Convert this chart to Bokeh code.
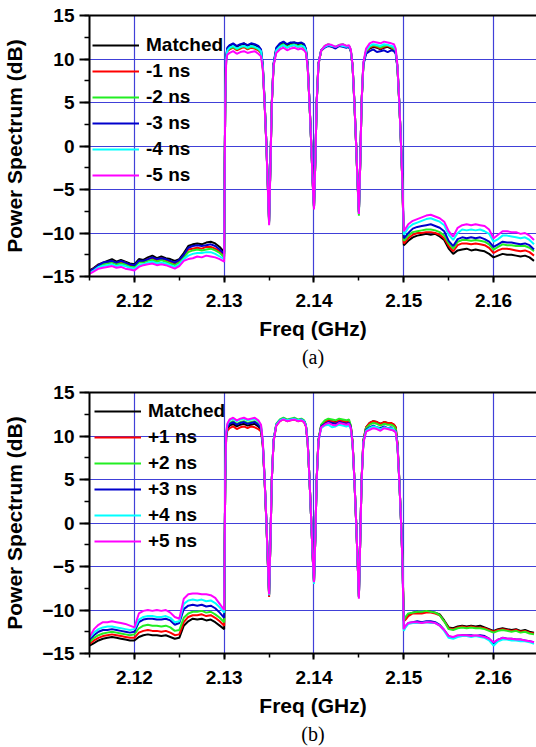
from bokeh.plotting import figure
from bokeh.models import (Range1d, SingleIntervalTicker, LinearAxis, FixedTicker,
                          Legend, LegendItem, Title)
from bokeh.layouts import column
from bokeh.embed import file_html
from bokeh.resources import INLINE

# ---------------- data ----------------
FREQ_LOW = [2.1150, 2.1155, 2.1160, 2.1165, 2.1170, 2.1175, 2.1180, 2.1185, 2.1190, 2.1195,
            2.1200, 2.1205, 2.1210, 2.1215, 2.1220, 2.1225, 2.1230, 2.1235, 2.1240, 2.1245,
            2.1250, 2.1255, 2.1260, 2.1265, 2.1270, 2.1275, 2.1280, 2.1285, 2.1290, 2.1295,
            2.1300]
FREQ_BAND = [2.13005, 2.13012, 2.13022, 2.13035,
             2.1306, 2.1310, 2.1314, 2.1318, 2.1322, 2.1326, 2.1330, 2.1334, 2.1338,
             2.1341, 2.1343, 2.1345, 2.1347, 2.13485,
             2.1350,
             2.13515, 2.1353, 2.1355, 2.1358,
             2.1362, 2.1366, 2.1370, 2.1374, 2.1378, 2.1382, 2.1386, 2.1389,
             2.1391, 2.1393, 2.1395, 2.1397, 2.13985,
             2.1400,
             2.14015, 2.1403, 2.1405, 2.1408,
             2.1412, 2.1416, 2.1420, 2.1424, 2.1428, 2.1432, 2.1436, 2.1439,
             2.1441, 2.1443, 2.1445, 2.1447, 2.14485,
             2.1450,
             2.14515, 2.1453, 2.1455, 2.1458,
             2.1462, 2.1466, 2.1470, 2.1474, 2.1478, 2.1482, 2.1486, 2.1489,
             2.1491, 2.1493, 2.1495, 2.1497, 2.14985]
FREQ_HIGH = [2.1500, 2.1502, 2.1505, 2.1510, 2.1515, 2.1520, 2.1525, 2.1530, 2.1535, 2.1540,
             2.1545, 2.1550, 2.1555, 2.1560, 2.1565, 2.1570, 2.1575, 2.1580, 2.1585, 2.1590,
             2.1595, 2.1600, 2.1605, 2.1610, 2.1615, 2.1620, 2.1625, 2.1630, 2.1635, 2.1640,
             2.1645]

LABELS_A = ["Matched", "-1 ns", "-2 ns", "-3 ns", "-4 ns", "-5 ns"]
LABELS_B = ["Matched", "+1 ns", "+2 ns", "+3 ns", "+4 ns", "+5 ns"]

# ---- panel (a) ----
A_MATCHED_LOW = [-14.3, -14.0, -13.6, -13.4, -13.2, -13.0, -13.3, -13.1, -13.3, -13.5,
                 -13.6, -13.0, -13.1, -12.8, -12.6, -12.9, -12.7, -12.9, -13.0, -13.2,
                 -13.0, -12.3, -11.5, -11.3, -11.2, -11.3, -11.1, -11.0, -11.2, -11.6, -12.2]
A_RED_LOW = [-14.4, -14.1, -13.7, -13.5, -13.4, -13.2, -13.5, -13.3, -13.4, -13.7,
             -13.8, -13.3, -13.3, -13.0, -12.9, -13.1, -12.9, -13.1, -13.3, -13.5,
             -13.2, -12.6, -11.9, -11.8, -11.7, -11.8, -11.6, -11.6, -11.8, -12.1, -12.6]
A_GREEN_LOW = [-14.5, -14.2, -13.8, -13.6, -13.5, -13.4, -13.6, -13.5, -13.6, -13.9,
               -13.9, -13.4, -13.4, -13.2, -13.1, -13.3, -13.1, -13.3, -13.5, -13.7,
               -13.4, -12.8, -12.2, -12.0, -11.9, -12.0, -11.9, -11.8, -12.0, -12.3, -12.8]
A_BLUE_LOW = [-14.4, -14.1, -13.7, -13.4, -13.3, -13.2, -13.4, -13.2, -13.4, -13.6,
              -13.7, -13.2, -13.2, -13.0, -12.8, -13.0, -12.9, -13.0, -13.2, -13.4,
              -13.1, -12.5, -11.7, -11.5, -11.4, -11.5, -11.4, -11.3, -11.5, -11.9, -12.4]
A_CYAN_LOW = [-14.6, -14.3, -13.9, -13.8, -13.7, -13.6, -13.8, -13.7, -13.8, -14.0,
              -14.1, -13.7, -13.6, -13.4, -13.3, -13.5, -13.4, -13.5, -13.7, -13.9,
              -13.6, -13.0, -12.6, -12.4, -12.3, -12.3, -12.2, -12.2, -12.4, -12.7, -13.0]
A_MAGENTA_LOW = [-14.7, -14.4, -14.1, -14.0, -13.9, -13.8, -14.0, -13.9, -14.1, -14.2,
                 -14.3, -13.9, -13.7, -13.6, -13.5, -13.7, -13.6, -13.7, -13.9, -14.1,
                 -13.8, -13.2, -13.0, -12.9, -12.7, -12.8, -12.6, -12.7, -12.8, -13.0, -13.3]

A_MATCHED_BAND = [-3.2, 5.4, 10.2, 11.2, 11.5, 11.7, 11.4, 11.6, 11.8, 11.5, 11.7, 11.6, 11.4,
                  11.0, 9.2, 5.1, 0.2, -4.3, -8.6,
                  -2.1, 4.9, 9.4, 11.2, 11.7, 11.9, 11.6, 11.8, 11.9, 11.7, 11.8, 11.6,
                  11.1, 9.3, 5.0, 0.1, -4.0, -7.0,
                  -1.6, 5.1, 9.5, 11.0, 11.4, 11.6, 11.5, 11.3, 11.6, 11.5, 11.4, 11.5,
                  11.0, 9.2, 5.0, 0.0, -4.1, -7.6,
                  -1.9, 5.1, 9.5, 10.9, 11.2, 11.4, 11.3, 11.1, 11.3, 11.4, 11.2, 11.1,
                  10.8, 9.0, 5.0, 0.0, -4.4]
A_RED_BAND = [-3.2, 5.3, 10.0, 10.9, 11.1, 11.3, 11.0, 11.2, 11.4, 11.1, 11.3, 11.2, 11.0,
              10.7, 9.0, 5.0, 0.1, -4.4, -8.8,
              -2.2, 4.9, 9.3, 11.0, 11.4, 11.6, 11.3, 11.5, 11.6, 11.4, 11.5, 11.3,
              10.9, 9.1, 4.9, 0.0, -4.1, -7.1,
              -1.7, 5.0, 9.4, 10.9, 11.4, 11.6, 11.4, 11.3, 11.5, 11.6, 11.4, 11.4,
              10.9, 9.1, 4.9, 0.0, -4.2, -7.7,
              -2.0, 5.0, 9.4, 10.8, 11.3, 11.5, 11.4, 11.2, 11.4, 11.5, 11.3, 11.1,
              10.8, 9.0, 4.9, -0.1, -4.5]
A_GREEN_BAND = [-3.1, 5.3, 10.0, 11.0, 11.2, 11.4, 11.1, 11.3, 11.5, 11.2, 11.4, 11.3, 11.1,
                10.8, 9.0, 5.0, 0.1, -4.4, -8.9,
                -2.2, 4.9, 9.3, 11.0, 11.5, 11.7, 11.4, 11.6, 11.7, 11.5, 11.6, 11.4,
                11.0, 9.1, 4.9, 0.0, -4.1, -7.1,
                -1.7, 5.0, 9.4, 11.0, 11.5, 11.7, 11.5, 11.4, 11.6, 11.7, 11.5, 11.5,
                11.0, 9.1, 4.9, 0.0, -4.3, -8.0,
                -2.0, 5.0, 9.4, 10.9, 11.4, 11.6, 11.5, 11.3, 11.5, 11.6, 11.4, 11.2,
                10.9, 9.0, 4.9, -0.1, -4.5]
A_BLUE_BAND = [-3.2, 5.4, 10.3, 11.3, 11.6, 11.8, 11.5, 11.7, 11.8, 11.6, 11.8, 11.7, 11.5,
               11.1, 9.3, 5.1, 0.2, -4.3, -8.7,
               -2.1, 5.0, 9.5, 11.3, 11.8, 12.0, 11.7, 11.9, 11.9, 11.8, 11.9, 11.7,
               11.2, 9.3, 5.0, 0.1, -4.0, -7.0,
               -1.6, 5.1, 9.5, 11.0, 11.3, 11.5, 11.4, 11.2, 11.5, 11.4, 11.3, 11.4,
               10.9, 9.1, 5.0, 0.0, -4.1, -7.6,
               -1.9, 5.0, 9.3, 10.6, 10.9, 11.1, 10.8, 10.9, 11.0, 10.8, 11.0, 10.9,
               10.6, 8.9, 4.9, 0.0, -4.4]
A_CYAN_BAND = [-3.1, 5.3, 10.1, 11.0, 11.3, 11.5, 11.2, 11.4, 11.5, 11.3, 11.5, 11.4, 11.2,
               10.9, 9.1, 5.0, 0.1, -4.4, -8.9,
               -2.2, 4.9, 9.3, 11.0, 11.4, 11.6, 11.3, 11.5, 11.6, 11.4, 11.5, 11.4,
               11.0, 9.1, 4.9, 0.0, -4.1, -7.2,
               -1.7, 5.0, 9.4, 11.0, 11.4, 11.6, 11.5, 11.4, 11.6, 11.5, 11.4, 11.5,
               11.0, 9.1, 4.9, 0.0, -4.2, -7.8,
               -2.0, 5.0, 9.5, 11.0, 11.5, 11.7, 11.6, 11.5, 11.7, 11.6, 11.5, 11.4,
               11.0, 9.1, 5.0, 0.0, -4.5]
A_MAGENTA_BAND = [-3.3, 5.0, 9.7, 10.5, 10.7, 10.9, 10.6, 10.8, 10.9, 10.7, 10.8, 10.9, 10.6,
                  10.3, 8.8, 4.8, 0.0, -4.6, -9.1,
                  -2.3, 4.8, 9.2, 10.7, 11.1, 11.3, 11.0, 11.2, 11.3, 11.1, 11.2, 11.0,
                  10.7, 9.0, 4.9, 0.0, -4.2, -7.3,
                  -1.7, 5.0, 9.4, 11.0, 11.5, 11.7, 11.6, 11.4, 11.6, 11.7, 11.5, 11.6,
                  11.1, 9.2, 5.0, 0.0, -4.2, -7.8,
                  -2.0, 5.1, 9.6, 11.2, 11.8, 12.0, 11.9, 11.8, 12.0, 11.9, 11.8, 11.7,
                  11.2, 9.2, 5.0, 0.0, -4.5]

A_MATCHED_HIGH = [-11.4, -11.2, -10.9, -10.5, -10.3, -10.2, -10.1, -10.2, -10.1, -10.4,
                  -10.8, -11.8, -12.4, -12.0, -11.9, -11.8, -12.0, -11.9, -12.0, -12.1,
                  -12.4, -12.8, -12.6, -12.4, -12.5, -12.5, -12.6, -12.7, -12.6, -12.8, -13.2]
A_RED_HIGH = [-11.2, -11.0, -10.6, -10.2, -10.0, -10.0, -9.9, -9.9, -10.0, -10.2,
              -10.6, -11.5, -12.1, -11.4, -11.2, -11.2, -11.3, -11.2, -11.3, -11.4,
              -11.7, -12.3, -12.0, -11.8, -11.8, -11.9, -12.0, -12.1, -12.0, -12.2, -12.6]
A_GREEN_HIGH = [-10.9, -10.7, -10.3, -9.9, -9.8, -9.7, -9.6, -9.6, -9.7, -9.9,
                -10.3, -11.2, -11.8, -11.0, -10.8, -10.8, -10.9, -10.8, -10.9, -11.0,
                -11.3, -11.9, -11.6, -11.3, -11.4, -11.4, -11.5, -11.5, -11.5, -11.7, -12.1]
A_BLUE_HIGH = [-10.6, -10.4, -10.0, -9.5, -9.3, -9.2, -9.1, -9.0, -9.2, -9.4,
               -9.8, -10.9, -11.5, -10.7, -10.5, -10.6, -10.5, -10.6, -10.5, -10.7,
               -11.0, -11.6, -11.3, -11.0, -11.1, -11.1, -11.2, -11.3, -11.2, -11.4, -11.9]
A_CYAN_HIGH = [-10.2, -9.9, -9.4, -9.0, -8.8, -8.6, -8.4, -8.3, -8.5, -8.7,
               -9.1, -10.2, -10.8, -10.0, -9.6, -9.7, -9.6, -9.7, -9.6, -9.8,
               -10.1, -11.0, -10.7, -10.3, -10.3, -10.4, -10.5, -10.6, -10.5, -10.8, -11.3]
A_MAGENTA_HIGH = [-9.8, -9.5, -9.0, -8.6, -8.4, -8.2, -8.0, -7.9, -8.1, -8.3,
                  -8.7, -9.8, -10.4, -9.4, -9.1, -9.0, -9.1, -9.0, -9.1, -9.2,
                  -9.6, -10.6, -10.2, -9.8, -9.8, -9.9, -9.9, -10.1, -10.0, -10.3, -10.8]

# ---- panel (b) ----
B_MATCHED_LOW = [-14.1, -13.8, -13.5, -13.3, -13.2, -13.1, -13.2, -13.3, -13.4, -13.5,
                 -13.5, -13.1, -12.9, -12.8, -12.9, -12.9, -13.0, -12.9, -13.1, -13.3,
                 -13.2, -11.8, -11.3, -11.0, -11.1, -11.0, -11.2, -11.1, -11.4, -11.8, -12.2]
B_RED_LOW = [-13.9, -13.5, -13.2, -13.0, -12.9, -12.8, -12.9, -13.0, -13.1, -13.2,
             -13.2, -12.6, -12.4, -12.3, -12.4, -12.4, -12.5, -12.4, -12.6, -12.9,
             -12.8, -11.4, -10.8, -10.6, -10.6, -10.5, -10.7, -10.6, -10.9, -11.3, -11.8]
B_GREEN_LOW = [-13.7, -13.2, -12.9, -12.7, -12.6, -12.5, -12.6, -12.7, -12.8, -12.9,
               -12.8, -12.1, -11.8, -11.7, -11.8, -11.8, -11.9, -11.8, -12.0, -12.4,
               -12.3, -10.9, -10.4, -10.2, -10.2, -10.1, -10.3, -10.2, -10.5, -10.9, -11.4]
B_BLUE_LOW = [-13.4, -12.9, -12.5, -12.3, -12.3, -12.2, -12.3, -12.4, -12.5, -12.6,
              -12.5, -11.4, -11.1, -11.0, -11.0, -11.1, -11.1, -11.0, -11.2, -11.7,
              -11.5, -9.9, -9.5, -9.4, -9.5, -9.4, -9.6, -9.5, -9.8, -10.3, -10.9]
B_CYAN_LOW = [-13.2, -12.6, -12.2, -12.0, -11.9, -11.9, -12.0, -12.1, -12.2, -12.3,
              -12.2, -11.1, -10.8, -10.7, -10.7, -10.8, -10.8, -10.7, -10.9, -11.4,
              -11.3, -9.3, -8.9, -8.8, -8.9, -8.8, -9.0, -8.9, -9.2, -9.7, -10.3]
B_MAGENTA_LOW = [-13.1, -12.2, -11.7, -11.4, -11.4, -11.3, -11.4, -11.5, -11.6, -11.8,
                 -12.0, -10.4, -10.1, -10.0, -10.1, -10.0, -10.1, -10.0, -10.3, -10.8,
                 -11.0, -8.7, -8.2, -8.1, -8.1, -8.2, -8.2, -8.3, -8.6, -9.3, -10.0]

B_MATCHED_BAND = [-3.2, 5.3, 10.0, 10.9, 11.2, 11.4, 11.1, 11.3, 11.4, 11.2, 11.3, 11.4, 11.1,
                  10.8, 9.0, 5.0, 0.1, -4.2, -8.2,
                  -2.0, 5.0, 9.5, 11.3, 11.8, 12.0, 11.8, 11.9, 12.0, 11.8, 11.9, 11.7,
                  11.2, 9.3, 5.0, 0.1, -3.8, -6.7,
                  -1.6, 5.1, 9.5, 11.2, 11.6, 11.8, 11.7, 11.6, 11.8, 11.7, 11.6, 11.7,
                  11.1, 9.2, 5.0, 0.0, -4.2, -8.4,
                  -1.9, 5.0, 9.5, 11.0, 11.5, 11.7, 11.6, 11.4, 11.6, 11.5, 11.4, 11.3,
                  11.0, 9.1, 5.0, 0.0, -4.4]
B_RED_BAND = [-3.3, 5.2, 9.8, 10.6, 10.9, 11.1, 10.8, 11.0, 11.1, 10.9, 11.1, 11.0, 10.8,
              10.5, 8.9, 4.9, 0.0, -4.4, -8.5,
              -2.1, 5.0, 9.4, 11.2, 11.7, 11.9, 11.7, 11.8, 11.9, 11.7, 11.8, 11.6,
              11.1, 9.2, 5.0, 0.1, -3.9, -6.8,
              -1.6, 5.1, 9.5, 11.2, 11.6, 11.8, 11.7, 11.5, 11.8, 11.7, 11.6, 11.6,
              11.1, 9.2, 5.0, 0.0, -4.2, -8.5,
              -1.9, 5.0, 9.5, 11.0, 11.5, 11.7, 11.6, 11.4, 11.6, 11.5, 11.5, 11.3,
              11.0, 9.1, 5.0, 0.0, -4.4]
B_GREEN_BAND = [-3.2, 5.3, 10.1, 11.1, 11.5, 11.7, 11.4, 11.6, 11.7, 11.5, 11.6, 11.7, 11.4,
                11.0, 9.1, 5.0, 0.1, -4.3, -8.3,
                -2.0, 5.0, 9.5, 11.4, 11.9, 12.1, 11.9, 12.0, 12.1, 11.9, 12.0, 11.8,
                11.3, 9.3, 5.0, 0.1, -3.8, -6.8,
                -1.5, 5.2, 9.6, 11.3, 11.8, 12.0, 11.9, 11.8, 12.0, 11.9, 11.8, 11.9,
                11.2, 9.3, 5.0, 0.0, -4.2, -8.5,
                -1.9, 5.0, 9.4, 10.9, 11.3, 11.5, 11.4, 11.2, 11.4, 11.3, 11.3, 11.1,
                10.8, 9.0, 4.9, 0.0, -4.4]
B_BLUE_BAND = [-3.2, 5.3, 10.1, 11.0, 11.4, 11.6, 11.3, 11.5, 11.6, 11.4, 11.5, 11.6, 11.3,
               10.9, 9.1, 5.0, 0.1, -4.3, -8.3,
               -2.0, 5.0, 9.5, 11.3, 11.8, 12.0, 11.8, 11.9, 12.0, 11.8, 11.9, 11.7,
               11.2, 9.3, 5.0, 0.1, -3.8, -6.8,
               -1.6, 5.1, 9.5, 11.1, 11.4, 11.6, 11.5, 11.4, 11.6, 11.5, 11.4, 11.5,
               11.0, 9.1, 5.0, 0.0, -4.2, -8.5,
               -1.9, 5.0, 9.3, 10.7, 11.0, 11.2, 11.0, 10.9, 11.1, 10.9, 11.0, 10.6,
               10.6, 8.9, 4.9, 0.0, -4.4]
B_CYAN_BAND = [-3.1, 5.4, 10.3, 11.3, 11.8, 12.0, 11.7, 11.9, 12.0, 11.8, 11.9, 12.0, 11.7,
               11.2, 9.3, 5.1, 0.2, -4.2, -8.3,
               -2.0, 5.0, 9.5, 11.3, 11.8, 12.0, 11.8, 11.9, 12.0, 11.8, 11.9, 11.7,
               11.2, 9.3, 5.0, 0.1, -3.8, -7.0,
               -1.6, 5.0, 9.4, 10.9, 11.2, 11.3, 11.0, 11.1, 11.3, 11.2, 11.1, 11.2,
               10.8, 9.0, 4.9, 0.0, -4.2, -8.6,
               -1.9, 4.9, 9.3, 10.6, 10.9, 11.1, 11.0, 10.8, 11.0, 10.9, 10.9, 10.7,
               10.5, 8.8, 4.9, 0.0, -4.4]
B_MAGENTA_BAND = [-3.0, 5.5, 10.4, 11.4, 11.9, 12.1, 11.8, 12.0, 12.1, 11.9, 12.0, 12.1, 11.8,
                  11.3, 9.4, 5.1, 0.2, -4.1, -8.2,
                  -2.0, 5.0, 9.4, 11.2, 11.7, 11.9, 11.7, 11.8, 11.9, 11.7, 11.8, 11.6,
                  11.1, 9.2, 5.0, 0.1, -3.7, -6.8,
                  -1.6, 5.0, 9.4, 11.0, 11.3, 11.5, 11.3, 11.2, 11.5, 11.4, 11.3, 11.4,
                  10.9, 9.1, 4.9, 0.0, -4.3, -8.7,
                  -2.0, 4.9, 9.2, 10.5, 10.7, 10.9, 10.8, 10.6, 10.9, 10.8, 10.7, 10.6,
                  10.4, 8.8, 4.8, 0.0, -4.5]

B_MATCHED_HIGH = [-11.2, -11.0, -10.5, -10.3, -10.2, -10.3, -10.1, -10.2, -10.3, -10.5,
                  -11.2, -12.0, -12.1, -11.9, -11.8, -11.9, -11.8, -11.9, -11.8, -12.0,
                  -12.2, -12.4, -12.2, -12.1, -12.2, -12.3, -12.2, -12.4, -12.3, -12.5, -12.6]
B_RED_HIGH = [-11.3, -11.1, -10.7, -10.4, -10.4, -10.4, -10.3, -10.3, -10.4, -10.6,
              -11.3, -12.1, -12.2, -12.0, -11.9, -12.0, -11.9, -12.0, -12.0, -12.1,
              -12.3, -12.5, -12.3, -12.2, -12.3, -12.4, -12.3, -12.5, -12.4, -12.6, -12.7]
B_GREEN_HIGH = [-11.2, -10.8, -10.4, -10.3, -10.2, -10.2, -10.1, -10.2, -10.3, -10.6,
                -11.3, -12.2, -12.3, -12.1, -12.0, -12.1, -12.0, -12.1, -12.1, -12.2,
                -12.4, -12.6, -12.4, -12.3, -12.4, -12.5, -12.4, -12.6, -12.5, -12.7, -12.8]
B_BLUE_HIGH = [-12.2, -11.9, -11.5, -11.4, -11.3, -11.4, -11.3, -11.3, -11.4, -11.7,
               -12.3, -13.0, -13.2, -13.0, -12.9, -12.9, -12.9, -13.0, -12.9, -13.0,
               -13.3, -13.9, -13.4, -13.2, -13.3, -13.3, -13.4, -13.4, -13.5, -13.6, -13.7]
B_CYAN_HIGH = [-12.4, -12.0, -11.6, -11.5, -11.5, -11.5, -11.4, -11.5, -11.5, -11.8,
               -12.4, -13.2, -13.3, -13.1, -13.0, -13.0, -13.1, -13.0, -13.1, -13.2,
               -13.5, -14.1, -13.6, -13.4, -13.4, -13.5, -13.5, -13.6, -13.6, -13.7, -13.9]
B_MAGENTA_HIGH = [-12.2, -11.8, -11.5, -11.4, -11.4, -11.5, -11.4, -11.4, -11.5, -11.8,
                  -12.3, -13.0, -13.1, -12.9, -12.9, -12.9, -13.0, -12.9, -13.0, -13.1,
                  -13.3, -13.7, -13.4, -13.2, -13.3, -13.3, -13.4, -13.4, -13.5, -13.6, -13.7]

SERIES_A = [
    (A_MATCHED_LOW, A_MATCHED_BAND, A_MATCHED_HIGH),
    (A_RED_LOW, A_RED_BAND, A_RED_HIGH),
    (A_GREEN_LOW, A_GREEN_BAND, A_GREEN_HIGH),
    (A_BLUE_LOW, A_BLUE_BAND, A_BLUE_HIGH),
    (A_CYAN_LOW, A_CYAN_BAND, A_CYAN_HIGH),
    (A_MAGENTA_LOW, A_MAGENTA_BAND, A_MAGENTA_HIGH),
]
SERIES_B = [
    (B_MATCHED_LOW, B_MATCHED_BAND, B_MATCHED_HIGH),
    (B_RED_LOW, B_RED_BAND, B_RED_HIGH),
    (B_GREEN_LOW, B_GREEN_BAND, B_GREEN_HIGH),
    (B_BLUE_LOW, B_BLUE_BAND, B_BLUE_HIGH),
    (B_CYAN_LOW, B_CYAN_BAND, B_CYAN_HIGH),
    (B_MAGENTA_LOW, B_MAGENTA_BAND, B_MAGENTA_HIGH),
]

# ---------------- styling ----------------
COLORS = ["#000000", "#ff0000", "#22ee22", "#0000cc", "#00ffff", "#ff00ff"]
GRID_COLOR = "#4040d8"
FONT = "Liberation Sans"
FREQ = FREQ_LOW + FREQ_BAND + FREQ_HIGH


def make_panel(series, labels, caption, height, b_top, b_bottom, legend_loc, cap_standoff):
    p = figure(width=536, height=height,
               x_range=Range1d(2.115, 2.164778), y_range=Range1d(-15, 15),
               output_backend="svg", toolbar_location=None,
               min_border_left=88, min_border_right=0,
               min_border_top=b_top, min_border_bottom=b_bottom)
    p.outline_line_color = None
    p.background_fill_color = "white"
    p.border_fill_color = "white"

    xt = SingleIntervalTicker(interval=0.01, num_minor_ticks=2)
    yt = SingleIntervalTicker(interval=5, num_minor_ticks=2)
    p.xaxis.ticker = xt
    p.yaxis.ticker = yt
    p.xgrid.ticker = xt
    p.ygrid.ticker = yt
    for g in (p.xgrid, p.ygrid):
        g.grid_line_color = GRID_COLOR
        g.grid_line_width = 1.2

    for ax in (p.xaxis, p.yaxis):
        ax.axis_line_width = 2
        ax.axis_line_color = "black"
        ax.major_tick_line_width = 2
        ax.minor_tick_line_width = 1.5
        ax.major_tick_in = 0
        ax.minor_tick_in = 0
        ax.major_label_text_font = FONT
        ax.major_label_text_font_style = "bold"
        ax.major_label_text_font_size = "19px"
        ax.major_label_text_color = "black"
        ax.axis_label_text_font = FONT
        ax.axis_label_text_font_style = "bold"
        ax.axis_label_text_font_size = "21px"
        ax.axis_label_text_color = "black"
    p.xaxis.major_tick_out = 6
    p.xaxis.minor_tick_out = 4
    p.xaxis.major_label_standoff = 11
    p.xaxis.axis_label = "Freq (GHz)"
    p.xaxis.axis_label_standoff = 7
    p.yaxis.major_tick_out = 10
    p.yaxis.minor_tick_out = 5
    p.yaxis.major_label_standoff = 5
    p.yaxis.axis_label = "Power Spectrum (dB)"
    p.yaxis.axis_label_standoff = 13

    top = LinearAxis(ticker=FixedTicker(ticks=[]), axis_line_width=2,
                     axis_line_color="black", major_tick_out=0, minor_tick_out=0,
                     major_label_text_font_size="0px", major_label_standoff=0)
    p.add_layout(top, "above")

    items = []
    for (lo, band, hi), color, lab in zip(series, COLORS, labels):
        ys = lo + band + hi
        r = p.line(FREQ, ys, line_color=color, line_width=2)
        items.append(LegendItem(label=lab, renderers=[r]))

    legend = Legend(items=items, location=legend_loc,
                    background_fill_alpha=0, border_line_color=None,
                    label_text_font=FONT, label_text_font_style="bold",
                    label_text_font_size="19px", label_text_color="black",
                    glyph_width=47, glyph_height=20, label_height=20,
                    label_standoff=7, spacing=4, padding=0, margin=0)
    p.add_layout(legend)

    cap = Title(text=caption, align="center", text_font="Liberation Serif",
                text_font_style="normal", text_font_size="20px",
                text_color="black", standoff=cap_standoff)
    p.add_layout(cap, "below")
    return p


pa = make_panel(SERIES_A, LABELS_A, "(a)", 377, 15, 101, (3, 90), 2)
pb = make_panel(SERIES_B, LABELS_B, "(b)", 370, 15, 94, (5, 101), 2)

layout = column(pa, pb, spacing=0)
open("out.html", "w").write(file_html(layout, INLINE))
